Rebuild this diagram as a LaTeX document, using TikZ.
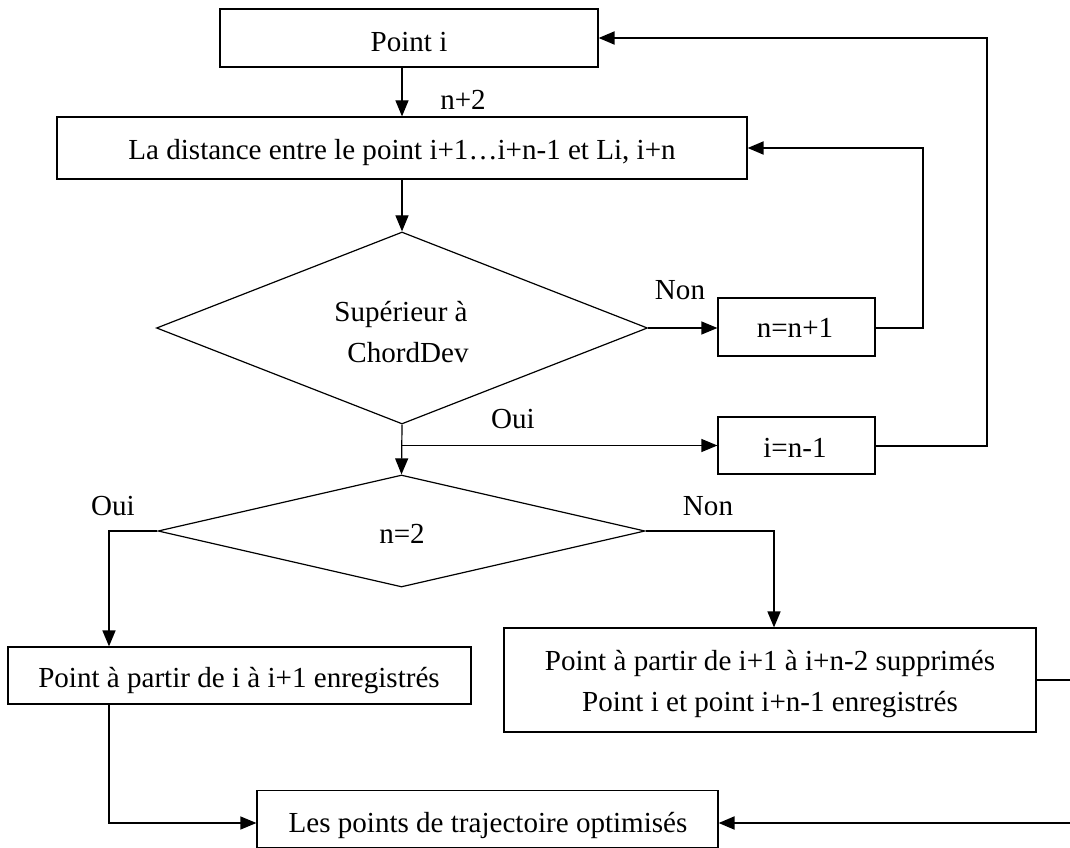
\documentclass[tikz,border=0pt]{standalone}
\usepackage{fontspec}
\setmainfont{Liberation Serif}
\usetikzlibrary{shapes.geometric,arrows.meta,calc}
\newdimen\pxu \pxu=0.75pt
\begin{document}
\begin{tikzpicture}[x=0.75pt,y=-0.75pt,
  box/.style={draw,line width=0.9pt,rectangle,inner sep=0pt},
  dia/.style={draw,line width=0.9pt,diamond,inner sep=0pt},
  txt/.style={anchor=base,inner sep=0pt,font=\fontsize{21.8}{26}\selectfont},
  conn/.style={line width=0.9pt,-{Triangle[length=12pt,width=9.75pt]}},
  branch/.style={line width=1.2pt,-{Triangle[length=12pt,width=9.75pt]}},
  back/.style={line width=1.5pt,-{Triangle[length=12pt,width=9.75pt]}}]
\useasboundingbox (0,0) rectangle (1070,848);
% shapes
\node[box,minimum width=378\pxu,minimum height=58\pxu] (pi) at (409,38) {};
\node[box,minimum width=690\pxu,minimum height=62\pxu] (dist) at (402,148) {};
\node[dia,minimum width=491\pxu,minimum height=192\pxu] (d1) at (402,328) {};
\node[box,minimum width=157\pxu,minimum height=58\pxu] (nn) at (796.5,327) {};
\node[box,minimum width=157\pxu,minimum height=57\pxu] (inn) at (796.5,445.5) {};
\node[dia,minimum width=487\pxu,minimum height=112\pxu] (d2) at (401.5,531) {};
\node[box,minimum width=463\pxu,minimum height=57\pxu] (b3) at (239.5,675.5) {};
\node[box,minimum width=532\pxu,minimum height=104\pxu] (b4) at (770,680) {};
\node[box,minimum width=461\pxu,minimum height=57\pxu] (b5) at (487.5,819) {};
% texts
\node[txt] (tpi) at (409,52) {Point i};
\node[txt] (tdist) at (402,160) {La distance entre le point i+1…i+n-1 et Li, i+n};
\node[txt] (td1a) at (401,322) {Supérieur à};
\node[txt] (td1b) at (408,363) {ChordDev};
\node[txt] (tnn) at (795,338) {n=n+1};
\node[txt] (tinn) at (795,457) {i=n-1};
\node[txt] (td2) at (402,543) {n=2};
\node[txt] (tb3) at (239,687) {Point à partir de i à i+1 enregistrés};
\node[txt] (tb4a) at (770,670) {Point à partir de i+1 à i+n-2 supprimés};
\node[txt] (tb4b) at (770,711) {Point i et point i+n-1 enregistrés};
\node[txt] (tb5) at (488,832) {Les points de trajectoire optimisés};
% labels
\node[txt] (lnp) at (463,110) {n+2};
\node[txt] (lnon1) at (680,300) {Non};
\node[txt] (loui1) at (513,428) {Oui};
\node[txt] (loui2) at (113,515) {Oui};
\node[txt] (lnon2) at (708,515) {Non};
% helper coordinates
\coordinate (oL) at (109,531);
\coordinate (oR) at (774,531);
\coordinate (bY) at (0,823);
% connectors
\draw[conn] (pi.south -| d1.north) -- (dist.north -| d1.north);
\draw[conn] (dist.south -| d1.north) -- (d1.north);
\draw[conn] (d1.east) -- (d1.east -| nn.west);
\draw[back] (nn.east |- d1.east) -- ++(47,0) |- (dist.east);
\draw[conn] (d1.south) -- (d2.north);
\draw[conn] (d1.south |- inn.west) -- (inn.west);
\draw[back] (inn.east) -- ++(111,0) |- (pi.east);
\draw[branch] (d2.west) -- (oL) -- (oL |- b3.north);
\draw[branch] (d2.east) -- (oR) -- (oR |- b4.north);
\draw[conn] (oL |- b3.south) |- (b5.west |- bY);
\draw[back] (b4.east) -- ++(50,0) |- (b5.east |- bY);
\end{tikzpicture}
\end{document}
